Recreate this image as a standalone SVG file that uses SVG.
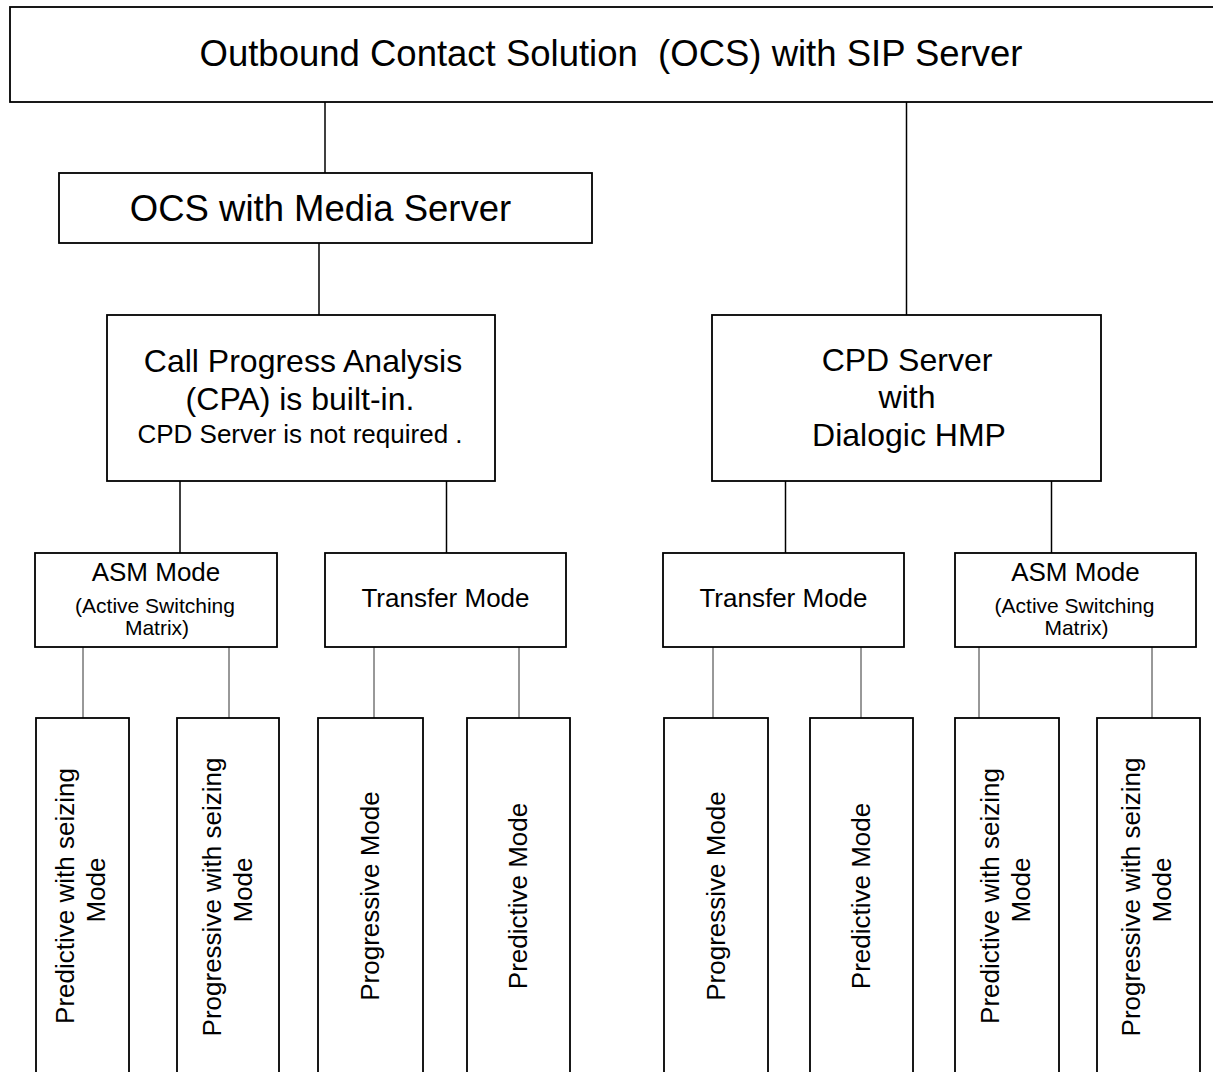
<svg xmlns="http://www.w3.org/2000/svg" width="1213" height="1072" viewBox="0 0 1213 1072">
<style>
.box{fill:#fff;stroke:#000;stroke-width:1.8}
.c1{stroke:#000;stroke-width:1.5;fill:none}
.c2{stroke:#333;stroke-width:1;fill:none}
text{font-family:"Liberation Sans",Arial,sans-serif;fill:#000;text-anchor:middle;white-space:pre}
.t36{font-size:36.5px}
.t32{font-size:32px}
.t26{font-size:26px}
.t21{font-size:21px}
</style>
<rect width="1213" height="1072" fill="#fff"/>
<g id="connectors">
<line class="c1" x1="325" y1="102" x2="325" y2="173"/>
<line class="c1" x1="906.5" y1="102" x2="906.5" y2="315"/>
<line class="c1" x1="319" y1="243" x2="319" y2="315"/>
<line class="c1" x1="180" y1="481" x2="180" y2="553"/>
<line class="c1" x1="446.5" y1="481" x2="446.5" y2="553"/>
<line class="c1" x1="785.5" y1="481" x2="785.5" y2="553"/>
<line class="c1" x1="1051.5" y1="481" x2="1051.5" y2="553"/>
<line class="c2" x1="83" y1="647" x2="83" y2="718"/>
<line class="c2" x1="229" y1="647" x2="229" y2="718"/>
<line class="c2" x1="374" y1="647" x2="374" y2="718"/>
<line class="c2" x1="519" y1="647" x2="519" y2="718"/>
<line class="c2" x1="713" y1="647" x2="713" y2="718"/>
<line class="c2" x1="861" y1="647" x2="861" y2="718"/>
<line class="c2" x1="979" y1="647" x2="979" y2="718"/>
<line class="c2" x1="1152" y1="647" x2="1152" y2="718"/>
</g>
<g id="ocs-sip">
<rect class="box" x="10" y="7" width="1220" height="95"/>
<text class="t36" x="611" y="66" xml:space="preserve">Outbound Contact Solution  (OCS) with SIP Server</text>
</g>
<g id="ocs-media">
<rect class="box" x="59" y="173" width="533" height="70"/>
<text class="t36" x="320.5" y="221">OCS with Media Server</text>
</g>
<g id="cpa">
<rect class="box" x="107" y="315" width="388" height="166"/>
<text class="t32" x="303" y="372">Call Progress Analysis</text>
<text class="t32" x="300" y="410">(CPA) is built-in.</text>
<text class="t26" x="300" y="443">CPD Server is not required .</text>
</g>
<g id="cpd">
<rect class="box" x="712" y="315" width="389" height="166"/>
<text class="t32" x="907" y="371">CPD Server</text>
<text class="t32" x="907" y="408">with</text>
<text class="t32" x="909" y="446">Dialogic HMP</text>
</g>
<g id="asm-left">
<rect class="box" x="35" y="553" width="242" height="94"/>
<text class="t26" x="156" y="581">ASM Mode</text>
<text class="t21" x="155" y="613">(Active Switching</text>
<text class="t21" x="157" y="635">Matrix)</text>
</g>
<g id="transfer-left">
<rect class="box" x="325" y="553" width="241" height="94"/>
<text class="t26" x="445.5" y="607">Transfer Mode</text>
</g>
<g id="transfer-right">
<rect class="box" x="663" y="553" width="241" height="94"/>
<text class="t26" x="783.5" y="607">Transfer Mode</text>
</g>
<g id="asm-right">
<rect class="box" x="955" y="553" width="241" height="94"/>
<text class="t26" x="1075.5" y="581">ASM Mode</text>
<text class="t21" x="1074.5" y="613">(Active Switching</text>
<text class="t21" x="1076.5" y="635">Matrix)</text>
</g>
<g id="pred-seize-left">
<rect class="box" x="36" y="718" width="93" height="370"/>
<text class="t26" transform="translate(74,896) rotate(-90)">Predictive with seizing</text>
<text class="t26" transform="translate(105,890) rotate(-90)">Mode</text>
</g>
<g id="prog-seize-left">
<rect class="box" x="177" y="718" width="102" height="370"/>
<text class="t26" transform="translate(221,897) rotate(-90)">Progressive with seizing</text>
<text class="t26" transform="translate(252,890) rotate(-90)">Mode</text>
</g>
<g id="prog-left">
<rect class="box" x="318" y="718" width="105" height="370"/>
<text class="t26" transform="translate(379,896) rotate(-90)">Progressive Mode</text>
</g>
<g id="pred-left">
<rect class="box" x="467" y="718" width="103" height="370"/>
<text class="t26" transform="translate(527,896) rotate(-90)">Predictive Mode</text>
</g>
<g id="prog-right">
<rect class="box" x="664" y="718" width="104" height="370"/>
<text class="t26" transform="translate(725,896) rotate(-90)">Progressive Mode</text>
</g>
<g id="pred-right">
<rect class="box" x="810" y="718" width="103" height="370"/>
<text class="t26" transform="translate(870,896) rotate(-90)">Predictive Mode</text>
</g>
<g id="pred-seize-right">
<rect class="box" x="955" y="718" width="104" height="370"/>
<text class="t26" transform="translate(999,896) rotate(-90)">Predictive with seizing</text>
<text class="t26" transform="translate(1030,890) rotate(-90)">Mode</text>
</g>
<g id="prog-seize-right">
<rect class="box" x="1097" y="718" width="103" height="370"/>
<text class="t26" transform="translate(1140,897) rotate(-90)">Progressive with seizing</text>
<text class="t26" transform="translate(1171,890) rotate(-90)">Mode</text>
</g>
</svg>
